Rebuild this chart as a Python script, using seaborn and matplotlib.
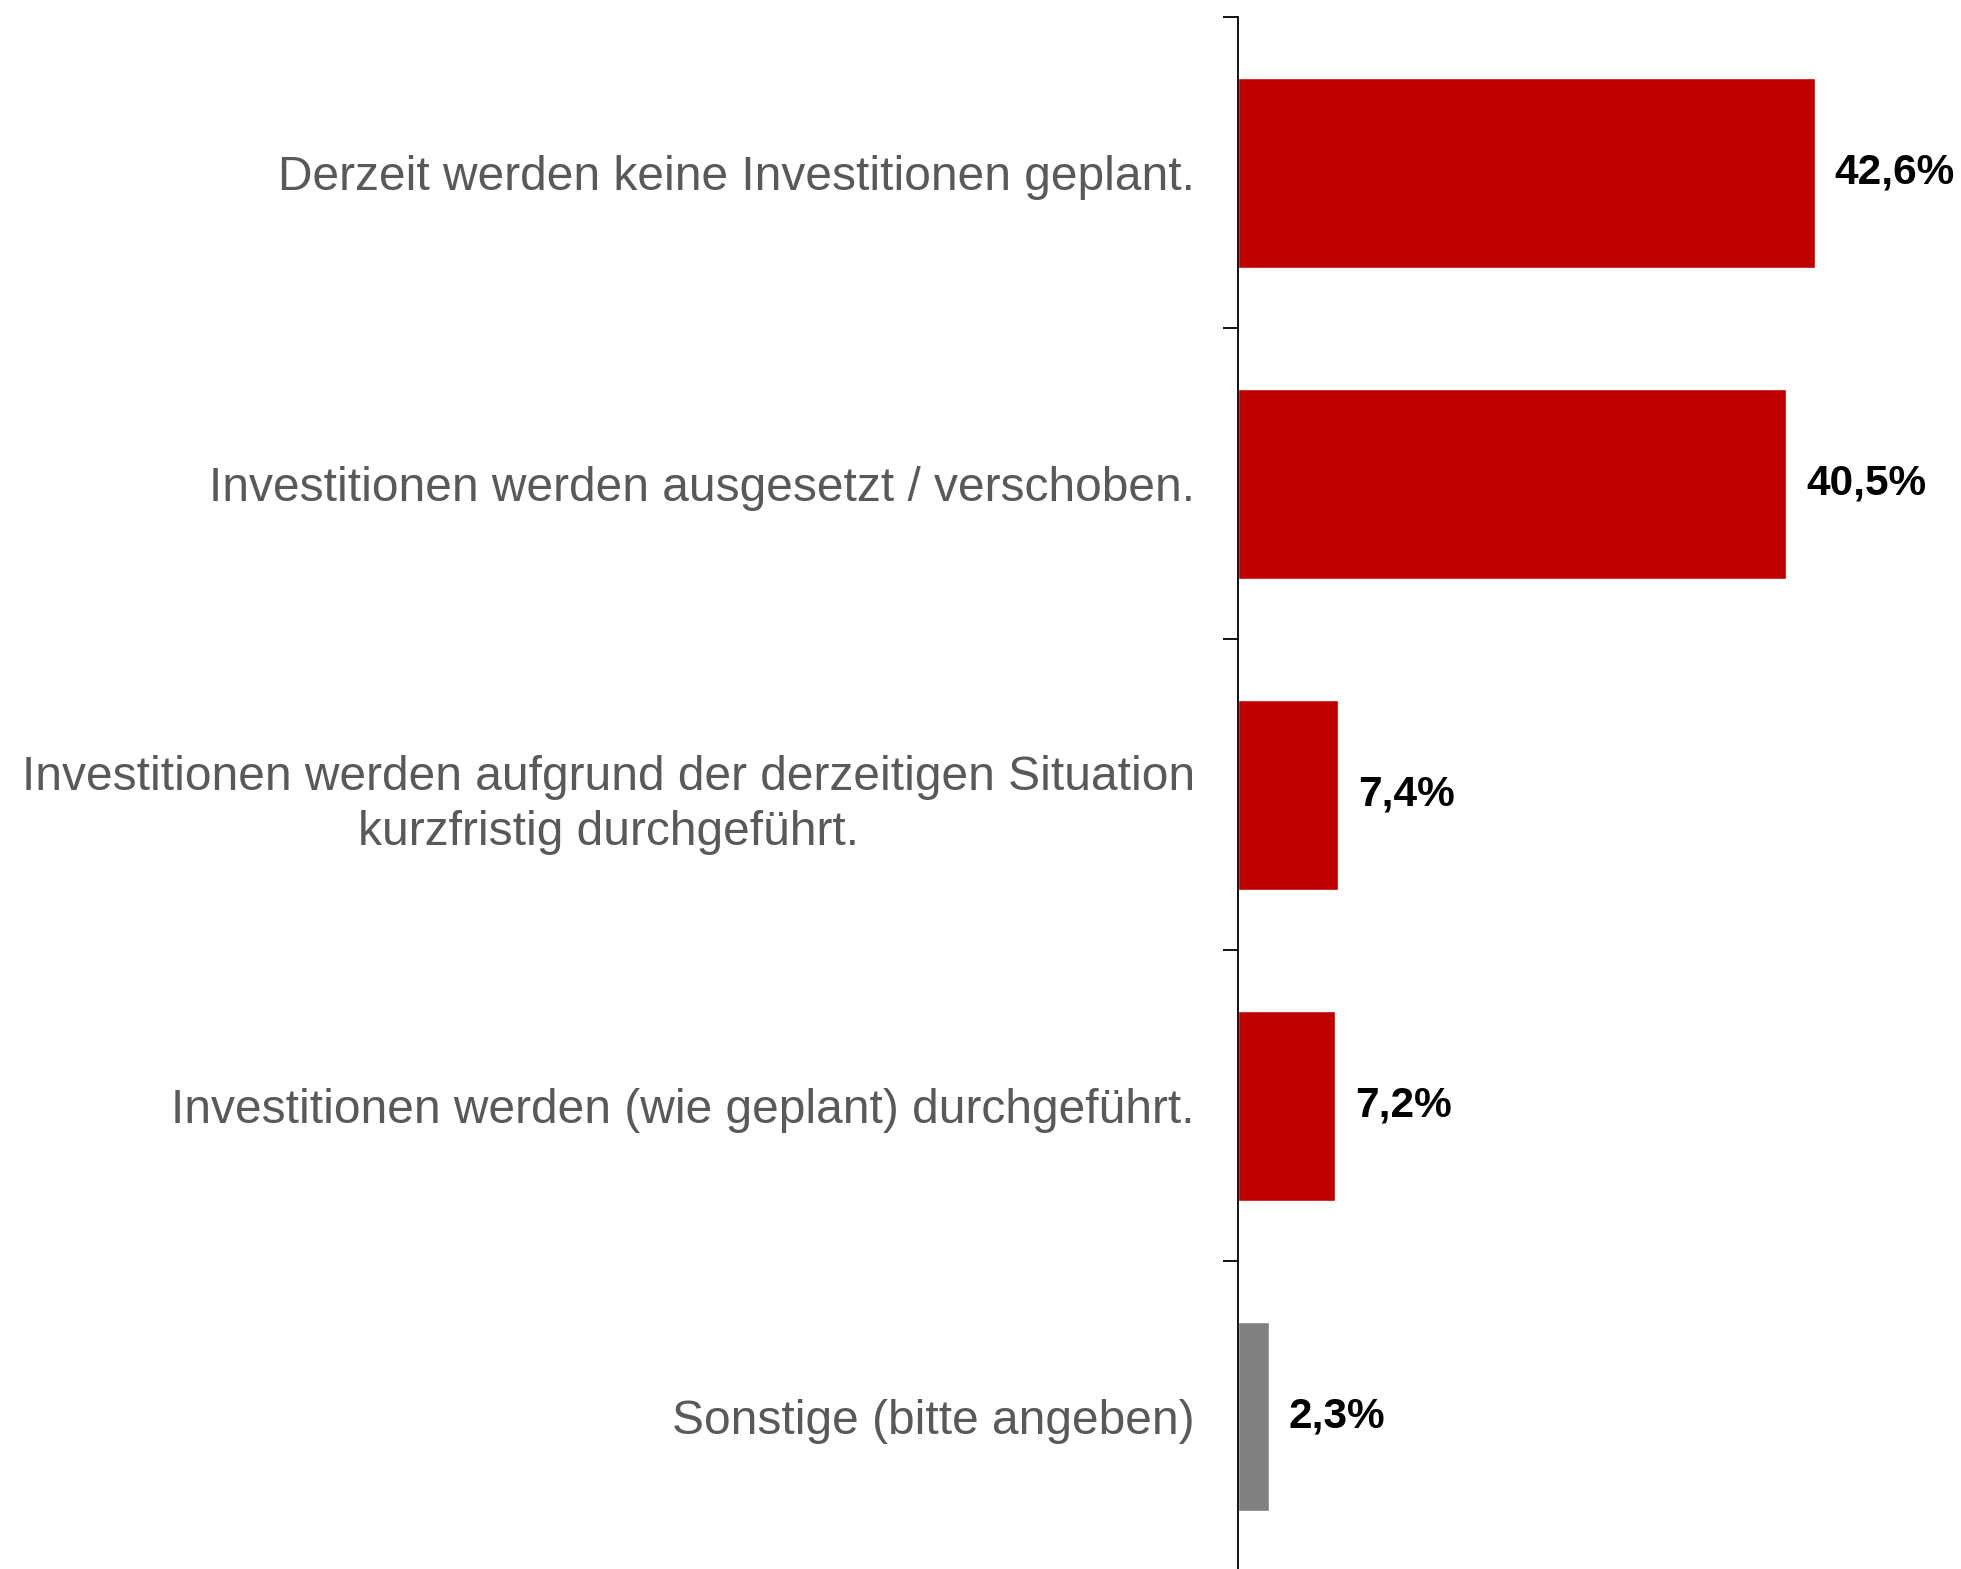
import pandas as pd
import matplotlib
matplotlib.use('Agg')
import matplotlib.pyplot as plt
import seaborn as sns

categories = [
    'Derzeit werden keine Investitionen geplant.',
    'Investitionen werden ausgesetzt / verschoben.',
    'Investitionen werden aufgrund der derzeitigen Situation\nkurzfristig durchgeführt.',
    'Investitionen werden (wie geplant) durchgeführt.',
    'Sonstige (bitte angeben)',
]
values = [42.6, 40.5, 7.4, 7.2, 2.3]
colors = ['#C00000', '#C00000', '#C00000', '#C00000', '#808080']

if __name__ == '__main__':
    df = pd.DataFrame({'Kategorie': categories, 'Anteil': values})

    sns.set_theme(style='white')
    plt.rcParams['font.family'] = ['Liberation Sans', 'DejaVu Sans']

    fig = plt.figure(figsize=(19.61, 15.69), dpi=100)
    ax = fig.add_axes([0.6313, -0.002, 0.3687, 0.991])

    sns.barplot(data=df, x='Anteil', y='Kategorie', hue='Kategorie',
                palette=colors, legend=False, width=0.61, saturation=1,
                orient='h', ax=ax)

    ax.set_xlim(0, 53.4)
    ax.set_ylim(4.5, -0.5)
    ax.set_xlabel('')
    ax.set_ylabel('')
    ax.set_xticks([])

    # labels at bar centres, tick marks at the category borders
    ax.set_yticks(range(len(categories)))
    ax.set_yticklabels(categories, fontsize=34.5, color='#595959',
                       multialignment='center', linespacing=1.3)
    ax.tick_params(axis='y', which='major', length=0, pad=31)
    ax.set_yticks([i - 0.5 for i in range(len(categories) + 1)], minor=True)
    ax.tick_params(axis='y', which='minor', left=True, length=11,
                   width=1.3, color='black', direction='out')

    for side in ['top', 'right', 'bottom']:
        ax.spines[side].set_visible(False)
    ax.spines['left'].set_color('black')
    ax.spines['left'].set_linewidth(1.3)

    for i, v in enumerate(values):
        ax.text(v + 1.45, i, f'{v:.1f}%'.replace('.', ','), va='center',
                ha='left', fontsize=30.5, fontweight='bold', color='black')

    fig.savefig('out.png', dpi=100)
